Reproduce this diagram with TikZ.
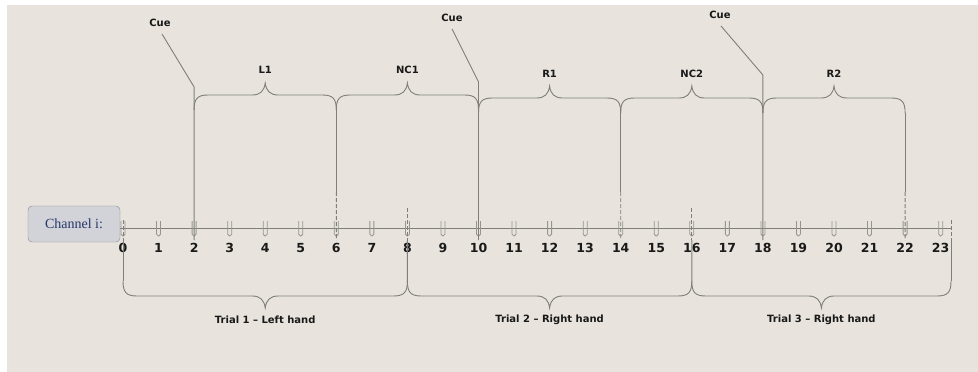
\documentclass[tikz,border=0pt]{standalone}
\usepackage{fontspec}
\setmainfont{Liberation Serif}
\newfontfamily\labfont{DejaVu Sans}
\usetikzlibrary{calc}
\definecolor{bgc}{HTML}{E8E4DD}
\definecolor{linec}{HTML}{7F7E7A}
\definecolor{tickc}{HTML}{96958F}
\definecolor{boxfill}{HTML}{D1D3D8}
\definecolor{boxdraw}{HTML}{878A91}
\definecolor{chtext}{HTML}{27356A}
% upper brace: #1 left x, #2 right x, #3 horizontal y
\newcommand\myubrace[3]{%
 \draw[ln] (#1,{#3+15}) .. controls (#1,{#3+4}) and ({#1+3},#3) .. ({#1+14},#3)
  -- ({(#1+#2)/2-13},#3) .. controls ({(#1+#2)/2-5},#3) and ({(#1+#2)/2-1},{#3-4}) .. ({(#1+#2)/2},{#3-12})
  .. controls ({(#1+#2)/2+1},{#3-4}) and ({(#1+#2)/2+5},#3) .. ({(#1+#2)/2+13},#3)
  -- ({#2-14},#3) .. controls ({#2-3},#3) and (#2,{#3+4}) .. (#2,{#3+15});}
% lower brace
\newcommand\mydbrace[3]{%
 \draw[ln] (#1,{#3-15}) .. controls (#1,{#3-4}) and ({#1+3},#3) .. ({#1+14},#3)
  -- ({(#1+#2)/2-13},#3) .. controls ({(#1+#2)/2-5},#3) and ({(#1+#2)/2-1},{#3+4}) .. ({(#1+#2)/2},{#3+12})
  .. controls ({(#1+#2)/2+1},{#3+4}) and ({(#1+#2)/2+5},#3) .. ({(#1+#2)/2+13},#3)
  -- ({#2-14},#3) .. controls ({#2-3},#3) and (#2,{#3-4}) .. (#2,{#3-15});}
\begin{document}
\begin{tikzpicture}[x=1pt,y=-1pt,
 lab/.style={font=\labfont\bfseries\fontsize{10}{12}\selectfont, text=black!90, inner sep=0pt},
 num/.style={font=\labfont\bfseries\fontsize{12.5}{14}\selectfont, text=black!90, inner sep=0pt},
 ln/.style={draw=linec, line width=0.9pt},
 tk/.style={draw=tickc, line width=0.8pt, rounded corners=1.8pt},
 dsh/.style={draw=linec, line width=0.9pt, dash pattern=on 4pt off 2pt}]

\fill[white] (0,0) rectangle (978,372);
\fill[bgc] (7,5) rectangle (978,372);
\useasboundingbox (0,0) rectangle (978,372);

% axis positions
\foreach \n in {0,...,23} { \coordinate (p\n) at ({123+35.55*\n},228); }
\coordinate (pend) at (951,228);

% channel box
\node[draw=boxdraw, fill=boxfill, rounded corners=4pt, minimum width=92pt, minimum height=36pt,
      font=\fontsize{14}{16}\selectfont, text=chtext, inner sep=0pt] (chan) at (74,224) {Channel i:};

% axis
\draw[ln, line width=0.8pt] (chan.east |- p0) -- (pend);

% ticks and numbers
\foreach \n in {0,...,23} {
  \draw[tk] ($(p\n)+(-2,-7)$) -- ++(0,15) -- ++(4,0) -- ++(0,-15);
  \node[num] (t\n) at ($(p\n)+(0,20)$) {\n};
}

% dashed markers on the axis
\draw[dsh] ($(p0)+(0,-8)$) -- ($(p0)+(0,10)$);
\draw[dsh] ($(p8)+(0,-20)$) -- ($(p8)+(0,12)$);
\draw[dsh] ($(p16)+(0,-20)$) -- ($(p16)+(0,12)$);
\draw[dsh] ($(pend)+(0,-8)$) -- ($(pend)+(0,10)$);

% Cue labels and lines
\node[lab] (cue1) at (160,23) {Cue};
\node[lab] (cue2) at (452,18) {Cue};
\node[lab] (cue3) at (720,15) {Cue};
\coordinate (k1) at (194.1,87);
\coordinate (k2) at (478.5,82);
\coordinate (k3) at (762.9,75);
\draw[ln] ($(cue1.south)+(2,7)$) -- (k1) -- ($(p2)+(0,12)$);
\draw[ln] ($(cue2.south)+(0,7)$) -- (k2) -- ($(p10)+(0,12)$);
\draw[ln] ($(cue3.south)+(1,7)$) -- (k3) -- ($(p18)+(0,12)$);

% upper braces
\myubrace{194.1}{336.3}{95}
\myubrace{336.3}{478.5}{95}
\myubrace{478.5}{620.7}{98}
\myubrace{620.7}{762.9}{98}
\myubrace{762.9}{905.1}{98}
\node[lab] (l1) at (265.2,70) {L1};
\node[lab] (nc1) at (407.4,70) {NC1};
\node[lab] (r1) at (549.6,74) {R1};
\node[lab] (nc2) at (691.8,74) {NC2};
\node[lab] (r2) at (834,74) {R2};

% verticals from upper braces at 6, 14, 22
\draw[ln] (336.3,110) -- (336.3,192);
\draw[dsh] (336.3,192) -- ($(p6)+(0,12)$);
\draw[ln] (620.7,113) -- (620.7,192);
\draw[dsh] (620.7,192) -- ($(p14)+(0,12)$);
\draw[ln] (905.1,113) -- (905.1,192);
\draw[dsh] (905.1,192) -- ($(p22)+(0,12)$);

% verticals to lower braces
\draw[ln] ($(p0)+(0,10)$) -- (123,281);
\draw[ln] ($(p8)+(0,12)$) -- (407.4,281);
\draw[ln] ($(p16)+(0,12)$) -- (691.8,281);
\draw[ln] ($(pend)+(0,10)$) -- (951,281);

% lower braces
\mydbrace{123}{407.4}{296}
\mydbrace{407.4}{691.8}{296}
\mydbrace{691.8}{951}{296}
\node[lab] (tr1) at (265.2,320) {Trial 1 – Left hand};
\node[lab] (tr2) at (549.6,320) {Trial 2 – Right hand};
\node[lab] (tr3) at (821.4,320) {Trial 3 – Right hand};
\end{tikzpicture}
\end{document}
